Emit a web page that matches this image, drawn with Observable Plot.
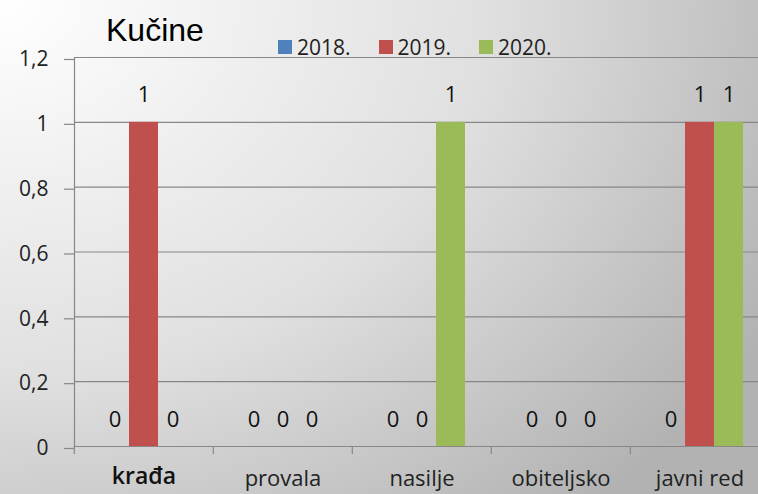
<!DOCTYPE html>
<html>
<head>
<meta charset="utf-8">
<script src="https://cdn.jsdelivr.net/npm/d3@7"></script>
<script src="https://cdn.jsdelivr.net/npm/@observablehq/plot@0.6"></script>
<style>
  html, body { margin: 0; padding: 0; }
  #wrap {
    position: relative; width: 758px; height: 494px; overflow: hidden;
    background: radial-gradient(ellipse 880px 680px at 0 0, #ffffff 0%, #e0e0e0 55%, #b2b2b2 100%);
    font-family: "Open Sans", Lato, sans-serif;
  }
  #title {
    position: absolute; left: 106px; top: 12px; line-height: normal;
    font-family: "Liberation Sans", Arial, sans-serif; font-size: 32px; color: #000;
  }
  #legend {
    position: absolute; left: 278px; top: 32px; display: flex; gap: 28px;
    font-size: 21px; color: #222; align-items: center; line-height: 30px;
  }
  #legend span.item { display: flex; align-items: center; gap: 5px; }
  #legend span.sw { width: 14px; height: 14px; display: inline-block; }
  #chart { position: absolute; left: 0; top: 0; }
</style>
</head>
<body>
<div id="wrap">
  <div id="chart"></div>
  <div id="title">Kučine</div>
  <div id="legend"></div>
</div>
<script>
const categories = ["krađa", "provala", "nasilje", "obiteljsko", "javni red"];
const years = ["2018.", "2019.", "2020."];
const v2018 = [0, 0, 0, 0, 0];
const v2019 = [1, 0, 0, 0, 1];
const v2020 = [0, 0, 1, 0, 1];
const colors = ["#4F81BD", "#C0504D", "#9BBB59"];
const yTicks = [0, 0.2, 0.4, 0.6, 0.8, 1, 1.2];

const series = [v2018, v2019, v2020];
const data = [];
categories.forEach((c, i) => years.forEach((y, j) => data.push({cat: c, year: y, value: series[j][i]})));

const fmt = d => String(+d.toFixed(1)).replace(".", ",");
const grid = "#878787";
const font = "'Open Sans', Lato, sans-serif";

const plot = Plot.plot({
  width: 758, height: 494,
  marginLeft: 73, marginRight: -12, marginTop: 57, marginBottom: 48,
  style: {background: "transparent", fontFamily: font, fontSize: "21px", overflow: "visible"},
  fx: {domain: categories, paddingInner: 0, paddingOuter: 0, label: null, axis: null},
  x: {domain: years, paddingInner: 0, paddingOuter: 0.825, axis: null},
  y: {domain: [0, 1.2], label: null, axis: null},
  color: {domain: years, range: colors},
  marks: [
    Plot.gridY(yTicks, {stroke: grid, strokeOpacity: 1, strokeWidth: 1.2}),
    Plot.axisY(yTicks, {tickSize: 10, tickPadding: 16, dy: 2, stroke: grid, strokeWidth: 1.2, fill: "#222", fontSize: 21, tickFormat: fmt, label: null}),
    Plot.frame({anchor: "left", facetAnchor: "left", stroke: grid, strokeWidth: 1.2}),
    Plot.barY(data, {fx: "cat", x: "year", y: "value", fill: "year"}),
    Plot.ruleY([0], {stroke: grid, strokeWidth: 1.2}),
    Plot.text(data, {fx: "cat", x: "year", y: "value", text: d => String(d.value), dy: -27, fill: "#111", fontSize: 22}),
    Plot.axisFx({anchor: "bottom", tickSize: 8, dx: -139.4 / 2, text: null, stroke: grid, strokeWidth: 1.2, label: null}),
    Plot.text(categories.slice(0, 1), {fx: d => d, text: d => d, frameAnchor: "bottom", lineAnchor: "top", dy: 21, fontSize: 23, fontWeight: 600, fill: "#111"}),
    Plot.text(categories.slice(1), {fx: d => d, text: d => d, frameAnchor: "bottom", lineAnchor: "top", dy: 24, fontSize: 22, fill: "#222"})
  ]
});
document.getElementById("chart").appendChild(plot);

const legend = document.getElementById("legend");
years.forEach((y, i) => {
  const it = document.createElement("span");
  it.className = "item";
  const sw = document.createElement("span");
  sw.className = "sw";
  sw.style.background = colors[i];
  it.appendChild(sw);
  it.appendChild(document.createTextNode(y));
  legend.appendChild(it);
});
</script>
</body>
</html>
